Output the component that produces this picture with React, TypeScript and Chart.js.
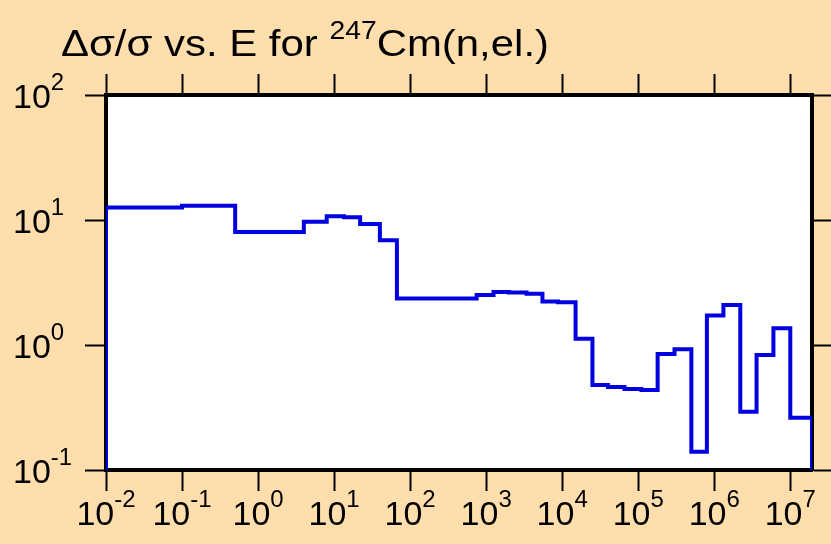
import React, { useEffect, useRef } from 'react';
import { Chart, registerables } from 'chart.js';

Chart.register(...registerables);

// ---- data ----
const EDGES = [
  0.01, 0.1, 0.5, 4, 8, 13.5, 22, 40, 67, 750, 1250, 2000, 3400, 5500, 8800,
  15000, 25000, 40000, 66000, 1.1e5, 1.8e5, 3e5, 5e5, 8e5, 1.32e6, 2.2e6, 3.6e6, 6e6, 1e7,
];
const VALUES = [
  12.6, 13.0, 8.0, 9.7, 10.7, 10.5, 9.3, 6.9, 2.36, 2.51, 2.65, 2.63, 2.57, 2.23, 2.2,
  1.12, 0.479, 0.462, 0.445, 0.437, 0.849, 0.926, 0.14, 1.72, 2.09, 0.293, 0.833, 1.36, 0.262,
];
const X_END = 1.93e7;
const FLOOR_VALUE = 0.01;
const X_TICK_EXPONENTS = ['-2', '-1', '0', '1', '2', '3', '4', '5', '6', '7'];
const Y_TICK_EXPONENTS = ['-1', '0', '1', '2'];
const TITLE_MAIN = 'Δσ/σ vs. E for ';
const TITLE_SUP = '247';
const TITLE_REST = 'Cm(n,el.)';

// ---- styling ----
const BG = '#FFDEAD';
const LINE = '#0000E0';
const FONT = '"Liberation Sans", Arial, Helvetica, sans-serif';
const BASE_PX = 34;
const EXP_PX = 24;
const EXP_RAISE = 18;
const LABEL_SX = 1.0;

function drawStretch(ctx: CanvasRenderingContext2D, text: string, x: number, y: number, px: number, sx: number) {
  ctx.save();
  ctx.font = `${px}px ${FONT}`;
  ctx.translate(x, y);
  ctx.scale(sx, 1);
  ctx.fillText(text, 0, 0);
  ctx.restore();
}

function drawPow(ctx: CanvasRenderingContext2D, exp: string, x: number, baseY: number, center: boolean) {
  ctx.font = `${BASE_PX}px ${FONT}`;
  const wb = ctx.measureText('10').width;
  ctx.font = `${EXP_PX}px ${FONT}`;
  const we = ctx.measureText(exp).width;
  const total = (wb + we) * LABEL_SX;
  const x0 = center ? x - total / 2 : x;
  drawStretch(ctx, '10', x0, baseY, BASE_PX, LABEL_SX);
  drawStretch(ctx, exp, x0 + wb * LABEL_SX, baseY - EXP_RAISE, EXP_PX, LABEL_SX);
}

const decorPlugin = {
  id: 'decor',
  beforeDraw(chart: any) {
    const { ctx, chartArea: a } = chart;
    ctx.save();
    ctx.fillStyle = BG;
    ctx.fillRect(0, 0, chart.width, chart.height);
    ctx.fillStyle = '#FFFFFF';
    ctx.fillRect(a.left, a.top, a.right - a.left, a.bottom - a.top);
    ctx.restore();
  },
  afterDraw(chart: any) {
    const ctx: CanvasRenderingContext2D = chart.ctx;
    ctx.save();
    ctx.fillStyle = '#000';
    ctx.textBaseline = 'alphabetic';
    ctx.textAlign = 'left';
    const xs = chart.scales.x;
    const ys = chart.scales.y;
    X_TICK_EXPONENTS.forEach((e) => {
      const px = xs.getPixelForValue(Math.pow(10, Number(e)));
      drawPow(ctx, e, px, 525, true);
    });
    Y_TICK_EXPONENTS.forEach((e) => {
      const py = ys.getPixelForValue(Math.pow(10, Number(e)));
      drawPow(ctx, e, 13, py + 13, false);
    });
    // title
    const TPX = 37;
    const SPX = 25;
    ctx.font = `${TPX}px ${FONT}`;
    const w1 = ctx.measureText(TITLE_MAIN).width;
    const w3 = ctx.measureText(TITLE_REST).width;
    ctx.font = `${SPX}px ${FONT}`;
    const w2 = ctx.measureText(TITLE_SUP).width;
    const sx = 488 / (w1 + w2 + w3);
    const tx = 61;
    const ty = 56;
    drawStretch(ctx, TITLE_MAIN, tx, ty, TPX, sx);
    drawStretch(ctx, TITLE_SUP, tx + w1 * sx, ty - 17, SPX, sx);
    drawStretch(ctx, TITLE_REST, tx + (w1 + w2) * sx, ty, TPX, sx);
    ctx.restore();
  },
};

function logAxis(position: string, min: number, max: number, exps: string[], size: number, tickLen: number) {
  const values = exps.map((e) => Math.pow(10, Number(e)));
  return {
    type: 'logarithmic',
    position,
    min,
    max,
    afterBuildTicks: (s: any) => {
      s.ticks = values.map((v) => ({ value: v }));
    },
    afterFit: (s: any) => {
      if (s.isHorizontal()) s.height = size;
      else s.width = size;
    },
    ticks: { display: false },
    grid: {
      drawOnChartArea: false,
      drawTicks: true,
      tickLength: tickLen,
      tickWidth: 2,
      tickColor: '#000',
    },
    border: { display: true, width: 4, color: '#000' },
  };
}

export default function App() {
  const ref = useRef<HTMLCanvasElement>(null);
  useEffect(() => {
    document.body.style.margin = '0';
    document.body.style.background = BG;
    const points = [
      { x: EDGES[0], y: FLOOR_VALUE },
      ...EDGES.map((e, i) => ({ x: e, y: VALUES[i] })),
      { x: X_END, y: VALUES[VALUES.length - 1] },
      { x: X_END, y: FLOOR_VALUE },
    ];
    const xMin = EDGES[0];
    const yMin = Math.pow(10, Number(Y_TICK_EXPONENTS[0]));
    const yMax = Math.pow(10, Number(Y_TICK_EXPONENTS[Y_TICK_EXPONENTS.length - 1]));
    const chart = new Chart(ref.current as HTMLCanvasElement, {
      type: 'line',
      data: {
        datasets: [
          {
            data: points,
            borderColor: LINE,
            borderWidth: 4,
            pointRadius: 0,
            fill: false,
            stepped: 'before',
            tension: 0,
            borderJoinStyle: 'miter',
            borderCapStyle: 'butt',
          } as any,
        ],
      },
      options: {
        responsive: false,
        animation: false,
        devicePixelRatio: 1,
        layout: { padding: 0 },
        plugins: { legend: { display: false }, title: { display: false }, tooltip: { enabled: false } },
        scales: {
          x: logAxis('bottom', xMin, X_END, X_TICK_EXPONENTS, 74, 21),
          x2: logAxis('top', xMin, X_END, X_TICK_EXPONENTS, 95, 21),
          y: logAxis('left', yMin, yMax, Y_TICK_EXPONENTS, 106, 21),
          y2: logAxis('right', yMin, yMax, Y_TICK_EXPONENTS, 19, 19),
        } as any,
      },
      plugins: [decorPlugin],
    });
    return () => chart.destroy();
  }, []);
  return (
    <div style={{ width: 831, height: 544 }}>
      <canvas ref={ref} width={831} height={544} style={{ display: 'block' }} />
    </div>
  );
}
